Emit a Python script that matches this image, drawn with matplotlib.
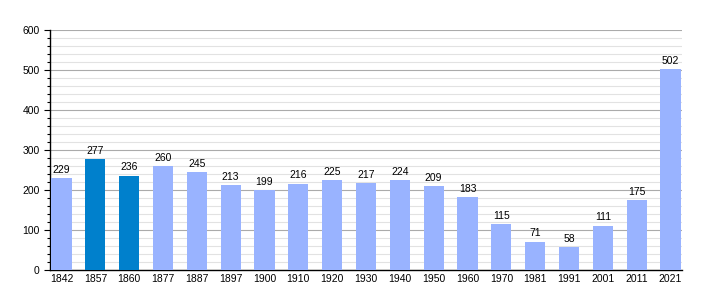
import numpy as np
import matplotlib.pyplot as plt
from matplotlib.ticker import MultipleLocator

plt.rcParams['font.family'] = ['Liberation Sans', 'DejaVu Sans']

years = ["1842", "1857", "1860", "1877", "1887", "1897", "1900", "1910", "1920", "1930",
         "1940", "1950", "1960", "1970", "1981", "1991", "2001", "2011", "2021"]
pop = [229, 277, 236, 260, 245, 213, 199, 216, 225, 217,
       224, 209, 183, 115, 71, 58, 111, 175, 502]
highlight = ["1857", "1860"]

colors = ['#0080cc' if y in highlight else '#99b3ff' for y in years]

fig = plt.figure(figsize=(7.1, 3.0), dpi=100)
ax = fig.add_axes([50/710, 0.1, 632/710, 0.8])
x = np.arange(len(years))
ax.bar(x, pop, width=0.6, color=colors, zorder=3)
for xi, v in zip(x, pop):
    ax.text(xi, v + 8, str(v), ha='center', va='bottom', fontsize=7.5, zorder=4)

ax.set_xlim(-0.34, len(years) - 1 + 0.34)
ax.set_ylim(0, 600)
ax.set_xticks(x)
ax.set_xticklabels(years, fontsize=7.5)
ax.yaxis.set_major_locator(MultipleLocator(100))
ax.yaxis.set_minor_locator(MultipleLocator(20))
ax.tick_params(axis='y', labelsize=7.5, length=4, width=0.8)
ax.tick_params(axis='y', which='minor', length=2, width=0.8)
ax.tick_params(axis='x', length=0, pad=3)
ax.grid(axis='y', which='major', color='#aaaaaa', lw=0.8, zorder=0)
ax.grid(axis='y', which='minor', color='#e2e2e2', lw=0.8, zorder=0)
for s in ['top', 'right']:
    ax.spines[s].set_visible(False)
ax.spines['left'].set_linewidth(1)
ax.spines['bottom'].set_linewidth(1)

fig.savefig("out.png", dpi=100)
